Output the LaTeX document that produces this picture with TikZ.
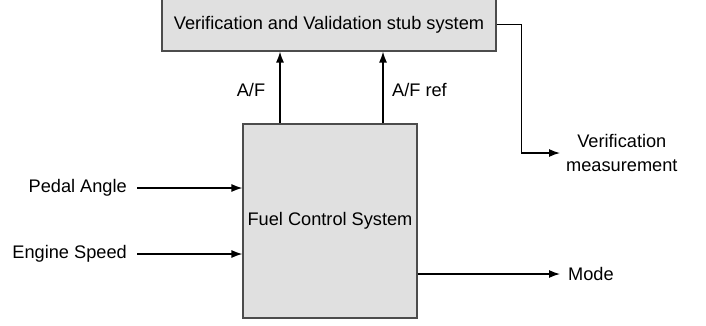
\documentclass[tikz,border=0pt]{standalone}
\usepackage{fontspec}
\setmainfont{Liberation Sans}
\usetikzlibrary{arrows.meta}
\definecolor{boxgray}{RGB}{224,224,224}
\begin{document}
\begin{tikzpicture}[x=1pt,y=-1pt,
  sysbox/.style={draw=black!70,line width=1.2pt,fill=boxgray,inner sep=0pt},
  lbl/.style={inner sep=0pt,font=\fontsize{18.2}{24.5}\selectfont},
  sig/.style={line width=1.3pt,-{Latex[length=11pt,width=8pt]}}]
\useasboundingbox (0,0) rectangle (706,325);
\node[sysbox,minimum width=334,minimum height=53,lbl] (vv) at (329,24.5) {Verification and Validation stub system};
\node[sysbox,minimum width=174,minimum height=194,lbl] (fcs) at (330,221) {Fuel Control System};
\coordinate (af) at (280,0);
\coordinate (afref) at (383,0);
\draw[sig] (fcs.north -| af) -- (vv.south -| af);
\draw[sig] (fcs.north -| afref) -- (vv.south -| afref);
\node[lbl] (aflbl) at (251,90) {A/F};
\node[lbl,anchor=west] (afreflbl) at (392,90) {A/F ref};
\node[lbl,anchor=east] (pedal) at (127,188) {Pedal Angle};
\node[lbl,anchor=east] (speed) at (127,254) {Engine Speed};
\draw[sig,shorten <=10pt] (pedal.east) -- (fcs.west |- pedal);
\draw[sig,shorten <=10pt] (speed.east) -- (fcs.west |- speed);
\node[lbl,anchor=west] (mode) at (568,274) {Mode};
\draw[sig,shorten >=8pt] (fcs.east |- mode) -- (mode.west);
\node[lbl,anchor=west,align=center] (vm) at (566,153) {Verification\\measurement};
\draw[sig,shorten >=6pt] (vv.east) -- ++(25,0) |- (vm.west);
\end{tikzpicture}
\end{document}
